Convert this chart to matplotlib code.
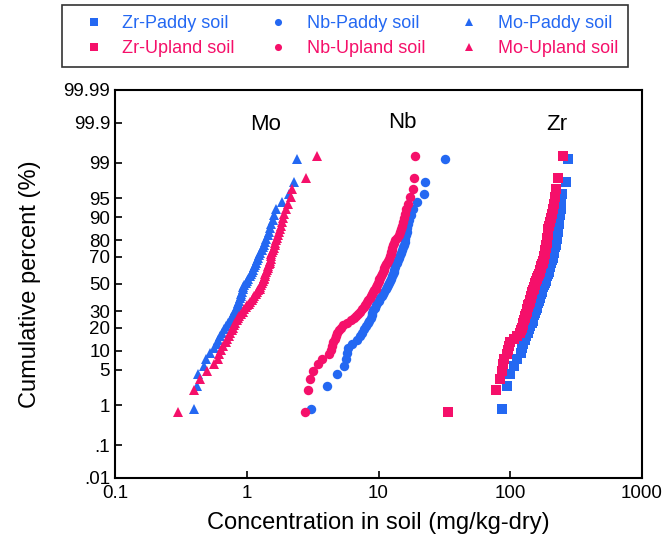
from statistics import NormalDist

import numpy as np
import matplotlib
matplotlib.use("Agg")
import matplotlib.pyplot as plt

plt.rcParams['font.family'] = ['Liberation Sans', 'DejaVu Sans']

# sorted concentrations (mg/kg-dry)
zr_paddy = [86, 95, 100, 106, 112, 120, 123, 125, 129, 132, 136, 139, 142, 145, 148,
            150, 152, 155, 157, 159, 161, 163, 165, 167, 169, 171, 173, 175, 178, 180,
            183, 186, 188, 191, 193, 196, 198, 200, 202, 205, 207, 210, 212, 214, 216,
            218, 221, 223, 225, 227, 229, 231, 233, 236, 239, 241, 243, 245, 265, 273]
nb_paddy = [3.05, 4.1, 4.8, 5.5, 5.65, 5.75, 5.85, 6.3, 6.9, 7.2, 7.5, 7.8, 8.1, 8.35, 8.5,
            8.7, 8.85, 9.0, 9.15, 9.35, 9.55, 9.8, 10.0, 10.3, 10.6, 10.85, 11.1, 11.4, 11.6, 11.9,
            12.1, 12.2, 12.4, 12.6, 12.8, 13.0, 13.1, 13.3, 13.45, 13.7, 14.0, 14.2, 14.45, 14.7, 15.0,
            15.3, 15.6, 15.8, 16.0, 16.2, 16.4, 16.6, 16.8, 17.1, 17.5, 18.2, 19.5, 22.0, 22.5, 32.0]
mo_paddy = [0.40, 0.42, 0.43, 0.47, 0.49, 0.53, 0.56, 0.59, 0.61, 0.63, 0.645, 0.67, 0.70, 0.72, 0.74,
            0.76, 0.78, 0.80, 0.82, 0.84, 0.855, 0.865, 0.88, 0.89, 0.90, 0.91, 0.92, 0.93, 0.94, 0.96,
            0.98, 1.00, 1.03, 1.06, 1.08, 1.10, 1.12, 1.14, 1.16, 1.18, 1.19, 1.21, 1.24, 1.27, 1.30,
            1.33, 1.35, 1.38, 1.41, 1.44, 1.47, 1.50, 1.53, 1.57, 1.62, 1.67, 1.85, 2.08, 2.30, 2.39]

zr_upland = [33.5, 78, 83, 86, 88, 90, 94, 96, 97, 99, 106, 112, 118, 121, 123, 124, 125, 127,
             128.5, 130, 131.5, 133, 135, 136, 137.5, 138.5, 140, 141.5, 143, 144.5, 146, 147.5,
             149, 150.5, 152, 153.5, 155, 157, 159, 161, 163, 165, 167, 168, 170, 172, 174, 176,
             178, 180, 181, 182, 183, 184, 185.5, 187, 188.5, 190, 191.5, 193, 194, 195, 198, 201,
             204, 208, 212, 216, 220, 224, 231, 252]
nb_upland = [2.75, 2.90, 3.0, 3.2, 3.45, 3.75, 4.2, 4.35, 4.45, 4.55, 4.65, 4.75, 4.85, 5.0, 5.15,
             5.4, 5.8, 6.2, 6.5, 6.75, 6.95, 7.2, 7.5, 7.7, 7.85, 8.0, 8.2, 8.35, 8.55, 8.7, 8.9, 9.1,
             9.3, 9.5, 9.65, 9.8, 9.9, 10.0, 10.1, 10.3, 10.5, 10.7, 10.9, 11.0, 11.1, 11.3, 11.45,
             11.6, 11.8, 12.0, 12.2, 12.35, 12.5, 12.6, 12.75, 12.9, 13.1, 13.4, 13.8, 14.2, 14.5,
             14.7, 15.0, 15.3, 15.5, 15.8, 16.1, 16.7, 17.3, 18.2, 18.6, 18.9]
mo_upland = [0.30, 0.40, 0.44, 0.50, 0.56, 0.60, 0.62, 0.64, 0.66, 0.69, 0.71, 0.73, 0.75, 0.77,
             0.79, 0.80, 0.82, 0.84, 0.86, 0.88, 0.91, 0.93, 0.96, 0.98, 1.01, 1.04, 1.06, 1.09,
             1.11, 1.14, 1.17, 1.20, 1.22, 1.25, 1.27, 1.29, 1.31, 1.33, 1.35, 1.36, 1.37, 1.38,
             1.40, 1.42, 1.44, 1.46, 1.48, 1.49, 1.51, 1.52, 1.53, 1.54, 1.56, 1.59, 1.61, 1.63,
             1.65, 1.68, 1.70, 1.73, 1.75, 1.78, 1.81, 1.84, 1.88, 1.92, 1.98, 2.06, 2.15, 2.22,
             2.80, 3.43]

y_ticks = [0.01, 0.1, 1, 5, 10, 20, 30, 50, 70, 80, 90, 95, 99, 99.9, 99.99]
y_labels = ['.01', '.1', '1', '5', '10', '20', '30', '50', '70', '80', '90', '95', '99', '99.9', '99.99']
x_ticks = [0.1, 1, 10, 100, 1000]
x_labels = ['0.1', '1', '10', '100', '1000']

BLUE = '#2468f2'
PINK = '#f5106a'

nd = NormalDist()
_ppf = np.vectorize(lambda v: nd.inv_cdf(min(max(v / 100.0, 1e-9), 1 - 1e-9)), otypes=[float])
_cdf = np.vectorize(lambda v: nd.cdf(v) * 100.0, otypes=[float])


def plotting_pos(vals):
    n = len(vals)
    return (np.arange(1, n + 1) - 0.5) / n * 100.0


fig = plt.figure(figsize=(6.64, 5.37), dpi=100)
ax = fig.add_axes([115 / 664, 59 / 537, 527 / 664, 388 / 537])
ax.set_xscale('log')
ax.set_yscale('function', functions=(_ppf, _cdf))

series = [
    (zr_paddy, 's', BLUE, 7.2, 'Zr-Paddy soil'),
    (nb_paddy, 'o', BLUE, 6.8, 'Nb-Paddy soil'),
    (mo_paddy, '^', BLUE, 7.2, 'Mo-Paddy soil'),
    (zr_upland, 's', PINK, 7.2, 'Zr-Upland soil'),
    (nb_upland, 'o', PINK, 6.8, 'Nb-Upland soil'),
    (mo_upland, '^', PINK, 7.2, 'Mo-Upland soil'),
]
handles = {}
for vals, mk, col, ms, lab in series:
    h, = ax.plot(vals, plotting_pos(vals), linestyle='none', marker=mk, color=col,
                 markersize=ms, markeredgewidth=0, label=lab)
    handles[lab] = h

ax.set_xlim(0.1, 1000)
ax.set_ylim(0.01, 99.99)
ax.set_xticks(x_ticks)
ax.set_xticklabels(x_labels)
ax.xaxis.set_minor_locator(matplotlib.ticker.NullLocator())
ax.set_yticks(y_ticks)
ax.set_yticklabels(y_labels)
ax.yaxis.set_minor_locator(matplotlib.ticker.NullLocator())
ax.tick_params(direction='in', length=5, width=1.2, labelsize=13.5, colors='black')
ax.tick_params(axis='x', pad=5)
for sp in ax.spines.values():
    sp.set_linewidth(1.5)

ax.set_xlabel('Concentration in soil (mg/kg-dry)', fontsize=17, labelpad=7)
ax.set_ylabel('Cumulative percent (%)', fontsize=17, labelpad=16)

ax.text(1.38, 99.885, 'Mo', fontsize=16, ha='center', va='center')
ax.text(15.1, 99.905, 'Nb', fontsize=16, ha='center', va='center')
ax.text(226, 99.885, 'Zr', fontsize=16, ha='center', va='center')

order = ['Zr-Paddy soil', 'Zr-Upland soil', 'Nb-Paddy soil', 'Nb-Upland soil',
         'Mo-Paddy soil', 'Mo-Upland soil']
leg = fig.legend([handles[k] for k in order], order, ncol=3, loc='upper left',
                 bbox_to_anchor=(62 / 664, 1 - 5 / 537), borderaxespad=0,
                 fontsize=13, frameon=True,
                 fancybox=False, edgecolor='black', markerscale=0.75,
                 handlelength=2.4, handletextpad=0.4, columnspacing=1.2,
                 labelspacing=0.45, borderpad=0.55)
leg.get_frame().set_linewidth(1.2)
for txt, k in zip(leg.get_texts(), order):
    txt.set_color(BLUE if 'Paddy' in k else PINK)

fig.savefig('out.png', dpi=100)
